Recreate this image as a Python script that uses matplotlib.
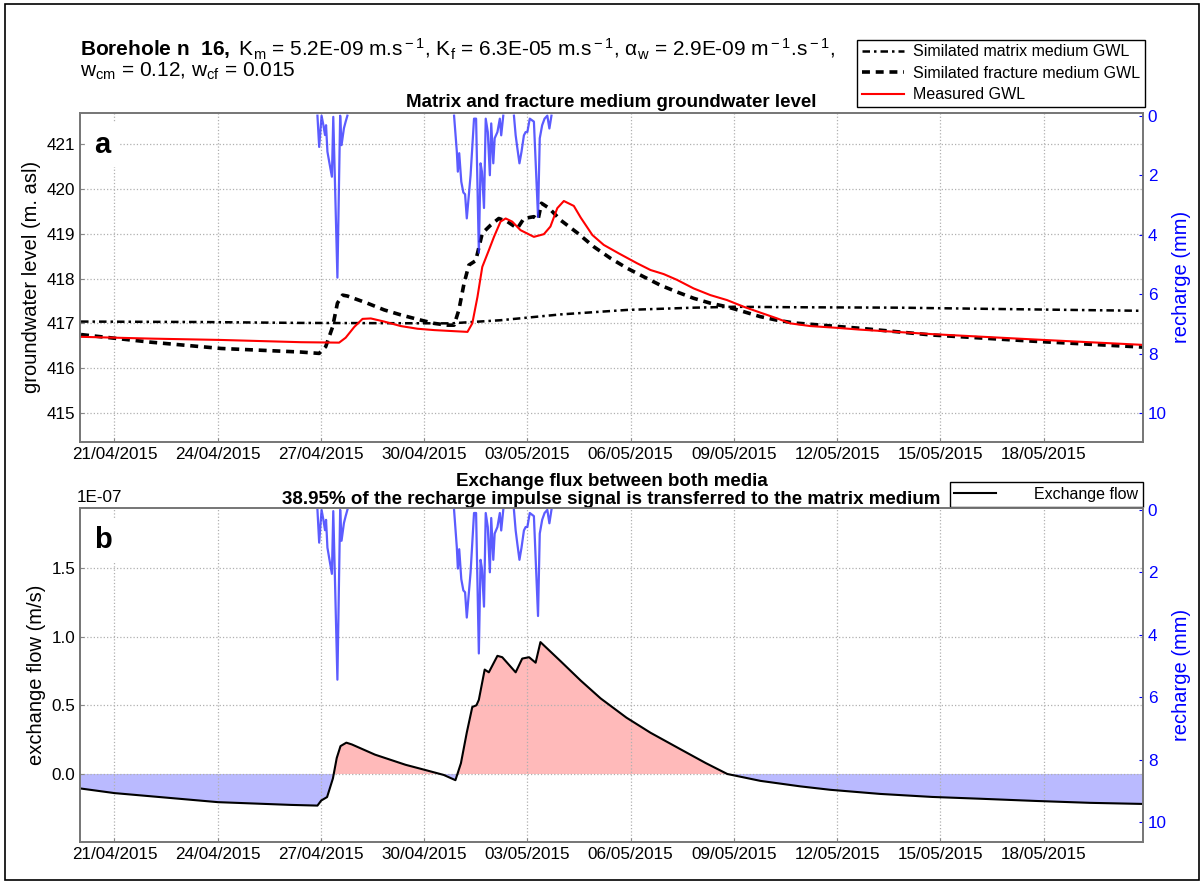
import matplotlib
matplotlib.use("Agg")
import matplotlib.pyplot as plt
import matplotlib.dates as mdates
import matplotlib.ticker as mticker
import matplotlib.patches as mpatches
from matplotlib import font_manager
import numpy as np
import pandas as pd

_installed = {f.name for f in font_manager.fontManager.ttflist}
if "Liberation Sans Narrow" in _installed:
    HEAD_FONT, HEAD_SIZE = "Liberation Sans Narrow", 17.5
else:
    HEAD_FONT, HEAD_SIZE = "Liberation Sans", 15

plt.rcParams["font.family"] = ["Liberation Sans", "DejaVu Sans"]
plt.rcParams["mathtext.fontset"] = "custom"
plt.rcParams["mathtext.rm"] = HEAD_FONT
plt.rcParams["mathtext.it"] = HEAD_FONT + ":italic"
plt.rcParams["mathtext.bf"] = HEAD_FONT + ":bold"

T0 = pd.Timestamp("2015-04-20 00:00")

# recharge bursts (days since 20/04/2015, mm)
rch1_days = [6.90, 6.95, 7.02, 7.07, 7.12, 7.15, 7.19, 7.25, 7.32, 7.36, 7.48, 7.56, 7.60, 7.67, 7.72, 7.77]
rch1_mm = [0.0, 1.05, 0.0, 0.30, 0.65, 0.32, 1.21, 1.60, 2.05, 0.04, 5.44, 0.0, 0.99, 0.42, 0.20, 0.0]

rch2_days = [10.87, 10.95, 10.98, 11.02, 11.08, 11.14, 11.19, 11.24, 11.35, 11.45, 11.51, 11.59,
             11.64, 11.68, 11.74, 11.79, 11.85, 11.91, 11.95, 12.01, 12.05, 12.13, 12.20, 12.24, 12.30]
rch2_mm = [0.0, 1.20, 1.88, 1.26, 2.22, 2.58, 2.64, 3.45, 2.00, 0.10, 0.10, 4.60,
           1.60, 1.88, 3.10, 0.10, 0.55, 2.00, 0.26, 1.60, 0.76, 0.55, 0.10, 0.66, 0.0]

rch3_days = [12.61, 12.66, 12.71, 12.77, 12.83, 12.90, 12.95, 13.00, 13.07, 13.19, 13.31, 13.36,
             13.43, 13.50, 13.58, 13.64, 13.70]
rch3_mm = [0.0, 0.66, 1.10, 1.60, 1.21, 0.66, 0.55, 0.55, 0.10, 0.20, 3.40, 0.76,
           0.32, 0.10, 0.0, 0.43, 0.0]

# simulated matrix medium GWL (m asl)
mat_days = [0.03, 3.52, 6.42, 10.77, 12.22, 13.97, 15.90, 17.83, 19.00, 20.74, 23.83, 26.74, 30.89]
mat_gwl = [417.04, 417.03, 417.01, 417.00, 417.07, 417.20, 417.30, 417.35, 417.37, 417.36, 417.35, 417.32, 417.28]

# simulated fracture medium GWL (m asl)
frac_days = [0.03, 2.06, 4.10, 6.42, 6.95, 7.14, 7.34, 7.48, 7.63, 7.77, 8.35, 8.84, 9.32, 9.81,
             10.29, 10.68, 10.87, 11.01, 11.16, 11.30, 11.50, 11.69, 11.93, 12.17, 12.42, 12.71,
             12.90, 13.19, 13.31, 13.41, 13.63, 13.97, 14.45, 14.93, 15.42, 15.90, 16.38, 16.87,
             17.35, 17.83, 18.32, 18.80, 19.29, 19.77, 20.26, 20.74, 21.71, 22.67, 24.76, 27.75, 30.89]
frac_gwl = [416.75, 416.58, 416.44, 416.36, 416.33, 416.48, 416.92, 417.45, 417.63, 417.61, 417.45,
            417.30, 417.19, 417.09, 417.00, 416.96, 416.96, 417.30, 417.89, 418.30, 418.40, 419.01,
            419.19, 419.34, 419.27, 419.12, 419.34, 419.38, 419.31, 419.68, 419.57, 419.30, 419.02,
            418.71, 418.45, 418.23, 418.04, 417.85, 417.70, 417.56, 417.45, 417.37, 417.26, 417.15,
            417.07, 417.01, 416.95, 416.89, 416.74, 416.60, 416.47]

# measured GWL (m asl)
meas_days = [0.03, 2.06, 4.10, 6.42, 7.53, 7.72, 7.97, 8.21, 8.45, 8.84, 9.32, 9.81, 10.29, 10.77,
             11.26, 11.40, 11.55, 11.69, 11.88, 12.03, 12.22, 12.37, 12.56, 12.80, 13.19, 13.48,
             13.67, 13.87, 14.06, 14.35, 14.55, 14.89, 15.22, 15.66, 16.19, 16.58, 16.96, 17.35,
             17.83, 18.32, 18.80, 19.29, 19.77, 20.26, 20.64, 21.22, 22.00, 22.67, 24.76, 27.75, 30.89]
meas_gwl = [416.70, 416.66, 416.63, 416.58, 416.57, 416.68, 416.92, 417.10, 417.11, 417.04, 416.94,
            416.88, 416.85, 416.83, 416.81, 417.00, 417.59, 418.26, 418.63, 418.93, 419.27, 419.34,
            419.27, 419.08, 418.93, 418.99, 419.16, 419.57, 419.73, 419.62, 419.36, 418.97, 418.75,
            418.56, 418.34, 418.19, 418.10, 417.97, 417.78, 417.63, 417.52, 417.37, 417.24, 417.11,
            417.00, 416.94, 416.90, 416.86, 416.76, 416.64, 416.52]

# exchange flow between media (x 1E-07 m/s)
flux_days = [0.03, 1.00, 4.01, 6.13, 6.90, 7.01, 7.18, 7.35, 7.46, 7.57, 7.74, 7.90, 8.57, 9.46,
             10.02, 10.57, 10.91, 11.07, 11.24, 11.40, 11.52, 11.59, 11.76, 11.88, 12.13, 12.27,
             12.66, 12.85, 13.05, 13.24, 13.38, 13.97, 14.55, 15.13, 15.88, 16.58, 17.45, 18.18,
             18.81, 19.77, 20.93, 21.80, 23.25, 24.76, 26.15, 27.75, 29.35, 30.89]
flux_e7 = [-0.106, -0.139, -0.205, -0.225, -0.230, -0.193, -0.168, -0.032, 0.116, 0.203, 0.228,
           0.215, 0.141, 0.067, 0.030, -0.007, -0.045, 0.079, 0.302, 0.488, 0.500, 0.540, 0.760,
           0.740, 0.860, 0.850, 0.740, 0.840, 0.850, 0.810, 0.960, 0.820, 0.680, 0.550, 0.410,
           0.300, 0.180, 0.080, 0.000, -0.050, -0.090, -0.115, -0.145, -0.167, -0.180, -0.196,
           -0.210, -0.218]

TICK_DAYS = list(range(1, 29, 3))
X_START = T0
X_END = T0 + pd.Timedelta(days=30.89)


def to_dates(days):
    return T0 + pd.to_timedelta(np.asarray(days, dtype=float), unit="D")


def rch_series():
    xs, ys = [], []
    for d, v in [(rch1_days, rch1_mm), (rch2_days, rch2_mm), (rch3_days, rch3_mm)]:
        xs.extend(list(mdates.date2num(to_dates(d))) + [np.nan])
        ys.extend(list(v) + [np.nan])
    return np.array(xs), np.array(ys)


def style_axis(ax):
    ax.set_xlim(X_START, X_END)
    ax.xaxis.set_major_locator(mticker.FixedLocator(mdates.date2num(to_dates(TICK_DAYS))))
    ax.xaxis.set_major_formatter(mdates.DateFormatter("%d/%m/%Y"))
    ax.grid(True, linestyle=":", color="#b0b0b0", linewidth=0.9)
    ax.tick_params(axis="both", direction="in", length=3, color="#888888", labelsize=12.3)
    for sp in ax.spines.values():
        sp.set_color("#777777")
        sp.set_linewidth(1.3)


def add_recharge(ax, ylim):
    axr = ax.twinx()
    rx, ry = rch_series()
    axr.plot(rx, ry, color="#3333ff", alpha=0.8, linewidth=1.6)
    axr.set_ylim(*ylim)
    axr.set_yticks([0, 2, 4, 6, 8, 10])
    axr.tick_params(axis="y", direction="in", length=3, colors="blue", labelsize=12.3)
    axr.set_ylabel("recharge (mm)", color="blue", fontsize=14.5)
    for sp in axr.spines.values():
        sp.set_color("#777777")
        sp.set_linewidth(1.3)
    axr.set_xlim(X_START, X_END)
    return axr


fig = plt.figure(figsize=(12.03, 8.82), dpi=100)
W, H = 1203.0, 882.0
ax_a = fig.add_axes([80 / W, 1 - 441.7 / H, 1063 / W, 329 / H])
ax_b = fig.add_axes([80 / W, 1 - 842 / H, 1063 / W, 334 / H])

# ---- panel a
ax_a.plot(to_dates(mat_days), mat_gwl, color="black", linestyle=(0, (3, 1.6, 1, 1.6)), linewidth=1.8,
          label="Similated matrix medium GWL")
ax_a.plot(to_dates(frac_days), frac_gwl, color="black", linestyle=(0, (2.2, 1.6)), linewidth=2.6,
          label="Similated fracture medium GWL")
ax_a.plot(to_dates(meas_days), meas_gwl, color="red", linewidth=1.5, label="Measured GWL")
ax_a.set_ylim(414.36, 421.70)
ax_a.set_yticks([415, 416, 417, 418, 419, 420, 421])
style_axis(ax_a)
ax_a.set_ylabel("groundwater level (m. asl)", fontsize=14.5)
ax_a.set_title("Matrix and fracture medium groundwater level", fontsize=13.5, fontweight="bold", pad=4)
ax_a.legend(loc="upper right", bbox_to_anchor=(1.002, 1.222), borderaxespad=0, fontsize=11.5,
            fancybox=False, framealpha=1, edgecolor="black", handlelength=2.6, labelspacing=0.4,
            borderpad=0.3, handletextpad=0.6)
ax_a.text(0.013, 0.945, "a", transform=ax_a.transAxes, fontsize=21, fontweight="bold", va="top",
          bbox=dict(facecolor="white", edgecolor="none", pad=6))
add_recharge(ax_a, (10.95, -0.1))

# ---- panel b
fx = to_dates(flux_days)
fy = np.array(flux_e7)
ax_b.fill_between(fx, fy, 0, where=fy >= 0, interpolate=True, color="red", alpha=0.27, linewidth=0)
ax_b.fill_between(fx, fy, 0, where=fy <= 0, interpolate=True, color="blue", alpha=0.27, linewidth=0)
ax_b.plot(fx, fy, color="black", linewidth=1.5, label="Exchange flow")
ax_b.set_ylim(-0.495, 1.936)
ax_b.set_yticks([0.0, 0.5, 1.0, 1.5])
ax_b.yaxis.set_major_formatter(mticker.FormatStrFormatter("%.1f"))
style_axis(ax_b)
ax_b.set_ylabel("exchange flow (m/s)", fontsize=14.5)
ax_b.set_title("Exchange flux between both media\n"
               "38.95% of the recharge impulse signal is transferred to the matrix medium",
               fontsize=13.5, fontweight="bold", pad=3, linespacing=1.05)
ax_b.text(-0.003, 1.008, "1E-07", transform=ax_b.transAxes, fontsize=12.3, ha="left", va="bottom")
ax_b.legend(loc="upper right", bbox_to_anchor=(1.0, 1.078), borderaxespad=0, fontsize=11.5,
            fancybox=False, framealpha=1, edgecolor="black", handlelength=2.6,
            borderpad=0.3, handletextpad=2.4)
ax_b.text(0.013, 0.945, "b", transform=ax_b.transAxes, fontsize=21, fontweight="bold", va="top",
          bbox=dict(facecolor="white", edgecolor="none", pad=6))
add_recharge(ax_b, (10.64, -0.06))

# ---- header
fig.text(80 / W, 1 - 56.7 / H,
         r"$\mathbf{Borehole\ n\ \ 16,}$ K$_{\rm m}$ = 5.2E-09 m.s$^{\rm -1}$, "
         r"K$_{\rm f}$ = 6.3E-05 m.s$^{\rm -1}$, α$_{\rm w}$ = 2.9E-09 m$^{\rm -1}$.s$^{\rm -1}$,",
         fontsize=HEAD_SIZE, family=[HEAD_FONT, "DejaVu Sans"], va="baseline", ha="left")
fig.text(80 / W, 1 - 77 / H, r"w$_{\rm cm}$ = 0.12, w$_{\rm cf}$ = 0.015",
         fontsize=HEAD_SIZE, family=[HEAD_FONT, "DejaVu Sans"], va="baseline", ha="left")

fig.patches.append(mpatches.Rectangle((0.004, 0.002), 0.993, 0.994, transform=fig.transFigure,
                                      fill=False, edgecolor="black", linewidth=1.2))

fig.savefig("out.png", dpi=100)
